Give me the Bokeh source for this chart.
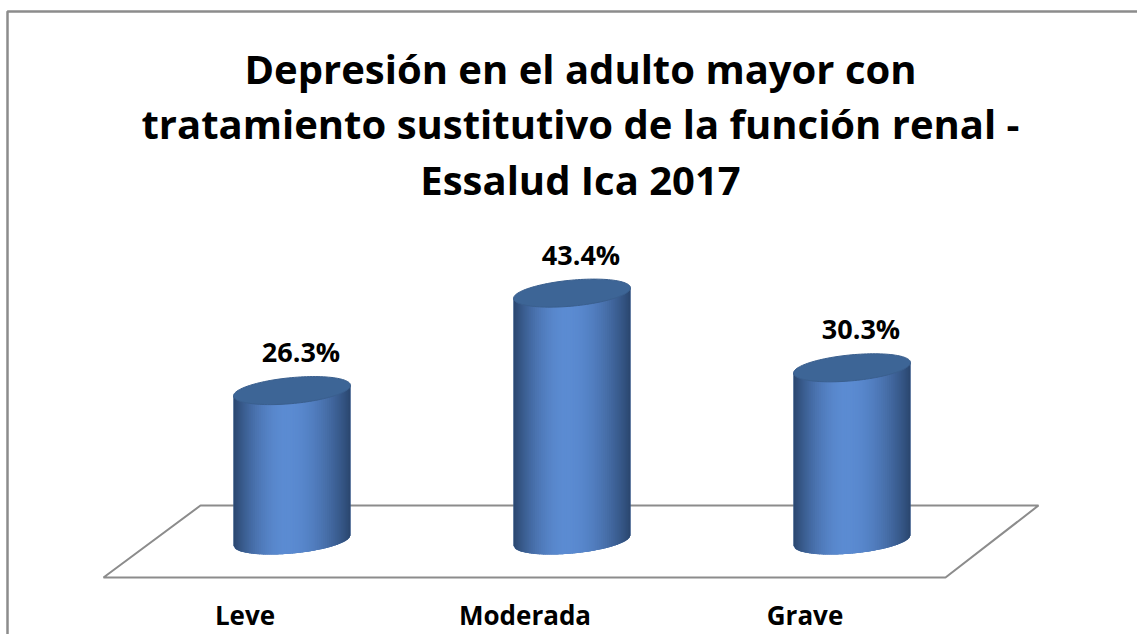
import numpy as np
from bokeh.plotting import figure
from bokeh.models import Range1d, ColumnDataSource
from bokeh.core.properties import value
from bokeh.embed import file_html
from bokeh.resources import INLINE

# ---- data ----
categories = ["Leve", "Moderada", "Grave"]
percentages = [26.3, 43.4, 30.3]
value_labels = ["26.3%", "43.4%", "30.3%"]
title_lines = ["Depresión en el adulto mayor con",
               "tratamiento sustitutivo de la función renal -",
               "Essalud Ica 2017"]

# ---- layout (pixel <-> data mapping) ----
W, H = 1137, 634
X0 = 291.5      # pixel x of first category centre
DX = 280.0      # pixels between categories
BASE = 540.0    # pixel y of value 0
PPU = 5.7       # pixels per percent


def X(px):
    return (px - X0) / DX


def Y(py):
    return (BASE - py) / PPU


p = figure(width=W, height=H, x_range=Range1d(X(0), X(W)), y_range=Range1d(Y(H), Y(0)),
           output_backend="svg", toolbar_location=None, min_border=0,
           x_axis_location=None, y_axis_location=None)
p.grid.visible = False
p.outline_line_color = None
p.background_fill_color = "white"
p.border_fill_color = "white"

FONT = value("Open Sans")

# outer border (top and left edges visible)
p.line([X(7), X(7), X(W + 20)], [Y(H + 20), Y(11), Y(11)], line_color="#8c8c8c", line_width=2.5)

# floor
p.patch([X(103), X(945), X(1038), X(200)], [Y(577), Y(577), Y(505), Y(505)],
        fill_color="white", line_color="#8c8c8c", line_width=2)

# cylinders
RX_PX = 58.5
RY_PX = 13.0
SKEW = 0.09
rx = RX_PX / DX
ry = RY_PX / PPU
N = 60
dark = np.array([0x29, 0x45, 0x6d], float)
light = np.array([0x5b, 0x8b, 0xd2], float)


def shade(t):
    # t in [0,1]; peak brightness near 0.45
    u = t / 0.45 * 0.5 if t < 0.45 else 0.5 + (t - 0.45) / 0.55 * 0.5
    w = np.sin(np.pi * u) ** 0.9
    c = dark + (light - dark) * w
    return "#%02x%02x%02x" % tuple(int(round(v)) for v in c)


def bot(t):
    return SKEW * t * RX_PX / PPU - ry * np.sqrt(max(0.0, 1 - t * t))


xs, ys, cols = [], [], []
bxs, bys = [], []
txs, tys = [], []
edges = np.linspace(-1, 1, N + 1)
step = edges[1] - edges[0]
th = np.linspace(0, 2 * np.pi, 120)
for i, v in enumerate(percentages):
    def top(t, v=v):
        return v + SKEW * t * RX_PX / PPU
    # solid body underlay
    tt = np.linspace(-1, 1, 80)
    bxs.append([i + t * rx for t in tt] + [i + t * rx for t in tt[::-1]])
    bys.append([bot(t) for t in tt] + [top(t) for t in tt[::-1]])
    for j in range(N):
        tl = edges[j]
        tr = min(1.0, edges[j + 1] + 0.6 * step)
        xs.append([i + tl * rx, i + tr * rx, i + tr * rx, i + tl * rx])
        ys.append([bot(tl), bot(tr), top(tr), top(tl)])
        cols.append(shade((j + 0.5) / N))
    txs.append(list(i + rx * np.cos(th)))
    tys.append(list(v + SKEW * np.cos(th) * RX_PX / PPU + ry * np.sin(th)))

p.patches(bxs, bys, fill_color="#4471ad", line_color=None)
src = ColumnDataSource(dict(xs=xs, ys=ys, c=cols))
p.patches("xs", "ys", source=src, fill_color="c", line_color=None)
p.patches(txs, tys, fill_color="#3d6596", line_color="#3a5f8e", line_width=1)

# value labels
p.text(x=[i + 9 / DX for i in range(len(percentages))],
       y=[v + 39 / PPU for v in percentages], text=value_labels,
       text_font=FONT, text_font_style="bold", text_font_size=value("27px"),
       text_align="center", text_baseline="middle", text_color="black")

# category labels
p.text(x=[i - 47 / DX for i in range(len(categories))], y=[Y(614)] * len(categories),
       text=categories, text_font=FONT, text_font_style="bold", text_font_size=value("26px"),
       text_align="center", text_baseline="middle", text_color="black")

# title
p.text(x=[X(580)] * 3, y=[Y(68), Y(123), Y(179)], text=title_lines,
       text_font=FONT, text_font_style="bold", text_font_size=value("40px"),
       text_align="center", text_baseline="middle", text_color="black")

open("out.html", "w").write(file_html(p, INLINE))
